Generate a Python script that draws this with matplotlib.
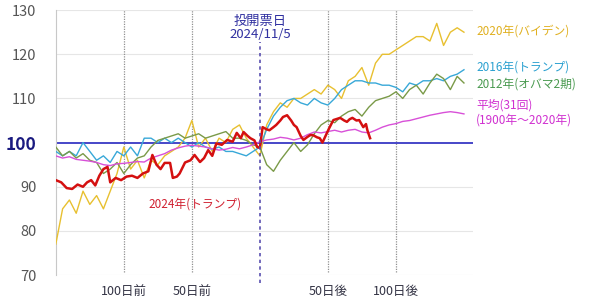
import numpy as np
import matplotlib
matplotlib.use("Agg")
import matplotlib.pyplot as plt

plt.rcParams['font.family'] = ['Noto Sans CJK JP', 'DejaVu Sans']

# days relative to election day (2024/11/5)
days = list(range(-150, 151, 5))

y2020 = [77, 85, 87, 84, 89, 86, 88, 85, 89, 93,
         99, 94, 96, 92, 96, 95, 97, 98, 99, 101,
         105, 99, 101, 98, 101, 100, 103, 104, 101, 99,
         97, 104, 107, 109, 108, 110, 110, 111, 112, 111,
         113, 112, 110, 114, 115, 117, 113, 118, 120, 120,
         121, 122, 123, 124, 124, 123, 127, 122, 125, 126, 125]

y2016 = [98, 97, 98, 97, 100, 98, 96, 97, 95.5, 98,
         97, 99, 97, 101, 101, 100, 101, 100, 101, 100,
         99, 100, 99, 98.5, 99, 98, 98, 97.5, 97, 98,
         99, 103, 106, 108, 109.5, 110, 109, 108.5, 110, 109,
         108.5, 110, 112, 113, 114, 114, 113.5, 113.5, 113, 113,
         112.5, 111.5, 113.5, 113, 114, 114, 114.5, 114, 115, 115.5, 116.5]

y2012 = [99, 97, 98, 96.5, 97.5, 96, 95.5, 93, 94, 95.5,
         93, 95, 96.5, 97, 99, 100.5, 101, 101.5, 102, 101,
         101.5, 102, 101, 101.5, 102, 102.5, 101, 101, 100.5, 99.5,
         99, 95, 93.5, 96, 98, 100, 98, 99.5, 102, 104,
         105, 104.5, 106, 107, 107.5, 106, 108, 109.5, 110, 110.5,
         111.5, 110, 112, 113, 111, 113.5, 115.5, 114.5, 112, 115, 113.5]

yavg = [97, 96.5, 96.8, 96.2, 96, 95.8, 95.5, 95, 94.8, 95.2,
        95.3, 95.5, 95.7, 95.6, 96.5, 97, 97.5, 98.3, 98.8, 99.2,
        99.4, 99.2, 99, 98.6, 98.3, 98.5, 98.9, 98.6, 99, 99.5,
        100.2, 100.6, 100.8, 101.2, 101, 100.6, 101, 101.8, 102.4, 102.2,
        102.5, 102.8, 102.4, 102.8, 103, 102.4, 102.2, 102.8, 103.5, 104,
        104.3, 104.8, 105, 105.4, 105.8, 106.2, 106.5, 106.8, 107, 106.8, 106.5]

days2024 = [-150, -146, -142, -138, -134, -130, -127, -124, -121, -118,
            -115, -112, -110, -106, -102, -98, -94, -90, -86, -82,
            -79, -76, -73, -70, -66, -64, -61, -59, -55, -51,
            -48, -44, -41, -38, -35, -32, -28, -24, -20, -17,
            -14, -12, -9, -7, -4, -2, 0, 2, 5, 7,
            10, 12, 15, 17, 20, 23, 25, 27, 30, 32,
            35, 37, 39, 42, 44, 46, 49, 51, 54, 57,
            59, 62, 64, 66, 68, 71, 73, 76, 78, 79, 81]
y2024 = [91.5, 91, 89.7, 89.5, 90.5, 90, 91, 91.5, 90.3, 92.5,
         94, 94.5, 91, 92, 91.5, 92.3, 92.5, 92, 93, 93.5,
         97.2, 95, 94, 95.4, 95.4, 92, 92.3, 93, 95.5, 96,
         97.2, 95.6, 96.5, 98.3, 97, 99.8, 99.5, 100.6, 100.2, 102.2,
         101, 102.4, 101.5, 101, 100.5, 99, 98.8, 103.5, 103, 102.8,
         103.5, 104, 105, 105.8, 106.2, 105, 104, 103.5, 101.5, 100.6,
         101.3, 101.7, 101.7, 101.2, 101, 100, 102, 103.3, 105.1, 105.4,
         105.6, 105, 104.7, 105.3, 105.6, 105, 105.1, 103.5, 104.2, 102.8, 101]

yticks = [70, 80, 90, 100, 110, 120, 130]
xticks = [-100, -50, 50, 100]
xlabels = ['100日前', '50日前', '50日後', '100日後']

fig = plt.figure(figsize=(6, 3.07), dpi=100)
ax = fig.add_axes([0.093, 0.104, 0.695, 0.863])

ax.set_xlim(-150, 156.5)
ax.set_ylim(70, 130)

for y in yticks:
    if y != 100:
        ax.axhline(y, color='#e6e6e6', lw=0.8, zorder=0)
for x in xticks:
    ax.axvline(x, ymin=0.012, ymax=1.0, color='#909090', lw=0.9, ls=(0, (1, 1)), zorder=1)

ax.plot(days, y2020, color='#E8C030', lw=1.0, zorder=3)
ax.plot(days, y2016, color='#38A8D8', lw=1.0, zorder=3)
ax.plot(days, y2012, color='#7A9A48', lw=1.0, zorder=3)
ax.plot(days, yavg, color='#D850D8', lw=1.0, zorder=3)
ax.axhline(100, color='#4646C8', lw=1.4, zorder=2)
ax.plot(days2024, y2024, color='#D41010', lw=1.8, zorder=4)

ax.axvline(0, ymin=-0.03, ymax=1.0, color='#5A50B0', lw=1.2, ls=(0, (2, 2)),
           zorder=5, clip_on=False)

ax.set_yticks(yticks)
ax.set_yticklabels([str(v) for v in yticks])
ax.set_xticks(xticks)
ax.set_xticklabels(xlabels)
ax.tick_params(axis='y', length=0, labelsize=10.5, colors='#555555', pad=14)
ax.tick_params(axis='x', length=0, labelsize=9, colors='#333344', pad=7)
for lab in ax.get_yticklabels():
    if lab.get_text() == '100':
        lab.set_color('#1a1a80')
        lab.set_fontsize(12.5)
        lab.set_fontweight('bold')

for s in ['top', 'right', 'bottom']:
    ax.spines[s].set_visible(False)
ax.spines['left'].set_color('#c8c8c8')

ax.text(0, 126, '投開票日\n2024/11/5', ha='center', va='center', fontsize=9.5,
        color='#3030A0', linespacing=1.0, zorder=6,
        bbox=dict(facecolor='white', edgecolor='none', pad=1))
ax.text(-48, 86, '2024年(トランプ)', ha='center', va='center', fontsize=8.5,
        color='#D02030')

tx = 159
ax.text(tx, 125.3, '2020年(バイデン)', ha='left', va='center', fontsize=8.5,
        color='#E0B020', clip_on=False)
ax.text(tx, 117.2, '2016年(トランプ)', ha='left', va='center', fontsize=8.5,
        color='#2AA0D0', clip_on=False)
ax.text(tx, 113.2, '2012年(オバマ2期)', ha='left', va='center', fontsize=8.5,
        color='#4A9A50', clip_on=False)
ax.text(tx, 109.9, '平均(31回)\n(1900年〜2020年)', ha='left', va='top', fontsize=8.5,
        color='#D030D0', linespacing=1.2, clip_on=False)

fig.savefig('out.png', dpi=100, facecolor='white')
